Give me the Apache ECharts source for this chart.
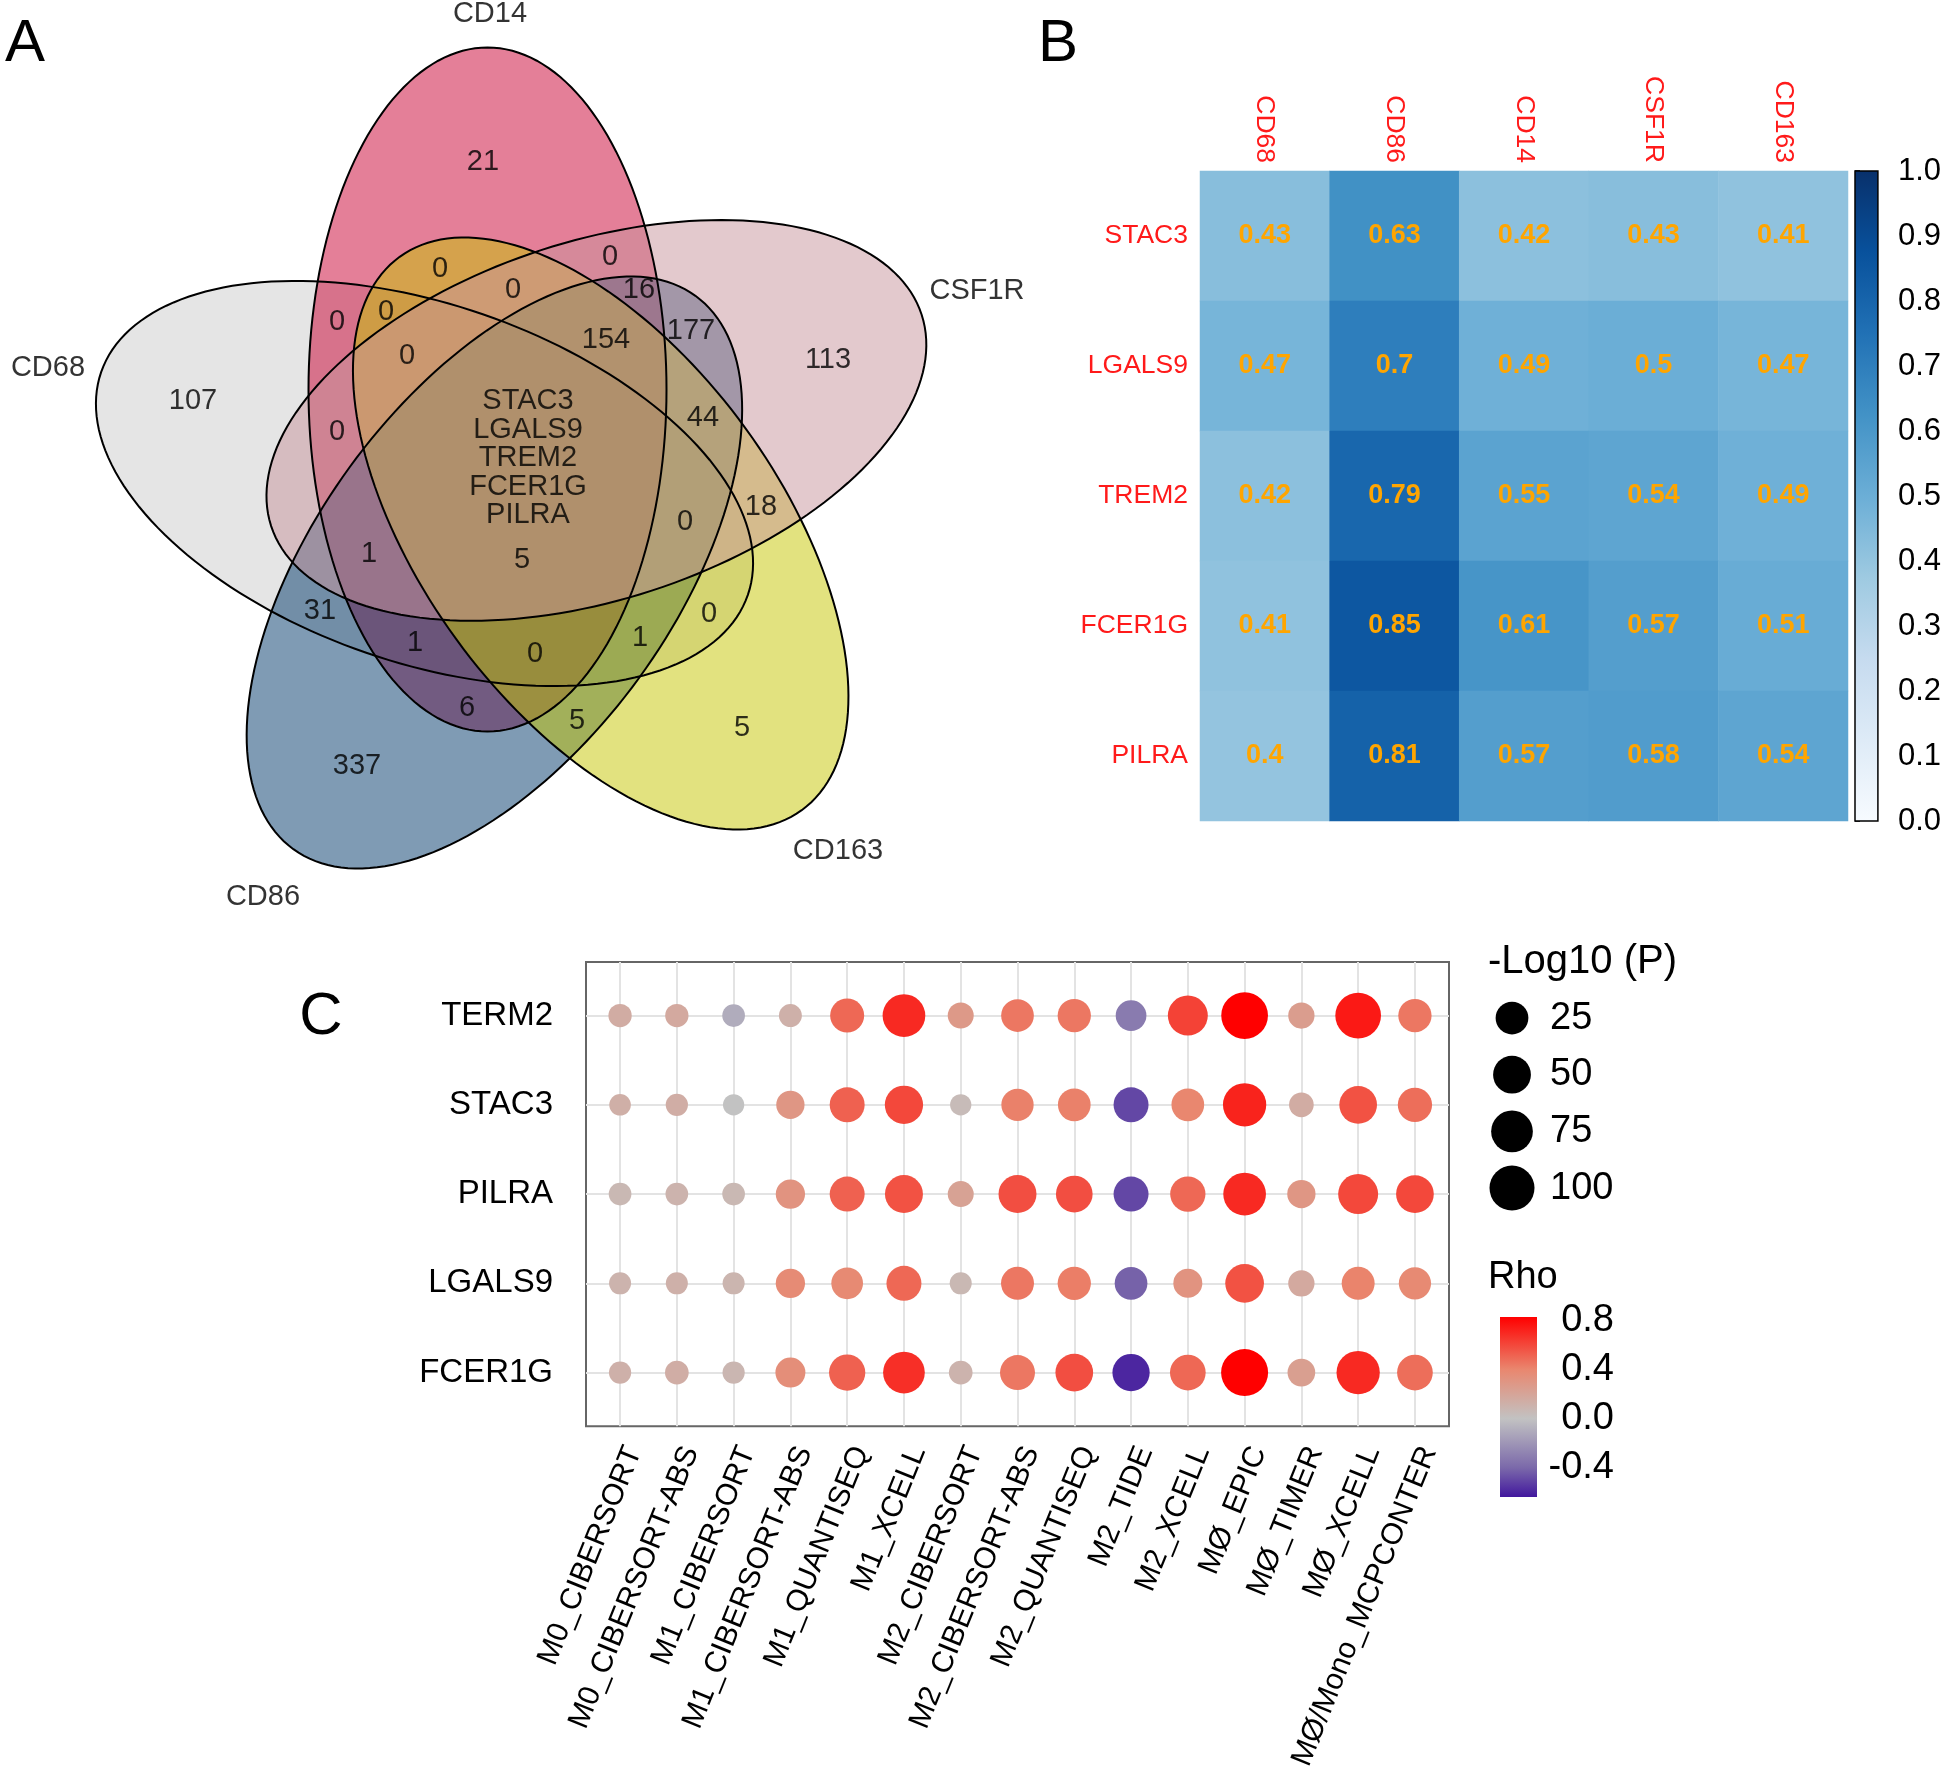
<!DOCTYPE html>
<html lang="en">
  <head>
    <meta charset="UTF-8" />
    <title>Macrophage markers: Venn, correlation heatmap, immune dot plot</title>
    <style>
      html,
      body {
        margin: 0;
        padding: 0;
        background: #ffffff;
      }
      #chart {
        width: 1944px;
        height: 1773px;
      }
    </style>
    <script src="https://cdn.jsdelivr.net/npm/echarts@6.0.0/dist/echarts.min.js"></script>
  </head>
  <body>
    <div id="chart"></div>
    <script>
      // ---------- panel A : five-set venn ----------
      const vennSets = ["CD68", "CD14", "CD86", "CD163", "CSF1R"];
      const vennCounts = [
        "21", "0", "0", "0", "16", "0", "0", "154", "177", "113", "107", "0", "0", "44",
        "18", "0", "1", "5", "31", "0", "1", "0", "1", "6", "5", "5", "337",
      ];
      const vennCoreGenes = ["STAC3", "LGALS9", "TREM2", "FCER1G", "PILRA"];

      // venn layout, in pixels of the venn grid: cx, cy, semi-major, semi-minor, angle
      const vennEllipses = [
        [424.5, 483.5, 342, 179, 19],
        [487.5, 389.5, 342, 179, 90],
        [494.4, 572.5, 342, 179, 126],
        [600.7, 533.5, 342, 179, 54],
        [596.4, 420.4, 342, 179, -18],
      ];
      const vennFills = ["#cccccc", "#c90031", "#003769", "#c5c500", "#c7939b"];
      const vennSetLabelPos = [[48, 368], [490, 14], [263, 897], [838, 851], [977, 291]];
      const vennCountPos = [
        [483, 162], [440, 269], [610, 257], [513, 290], [639, 290], [337, 322], [386, 312],
        [606, 340], [691, 331], [828, 360], [193, 401], [407, 356], [337, 432], [703, 418],
        [761, 507], [685, 522], [369, 554], [522, 560], [320, 611], [709, 614], [415, 643],
        [535, 654], [640, 638], [467, 708], [577, 721], [742, 728], [357, 766],
      ];
      const vennCorePos = [528, 458];

      // ---------- panel B : correlation heatmap ----------
      const heatRows = ["STAC3", "LGALS9", "TREM2", "FCER1G", "PILRA"];
      const heatCols = ["CD68", "CD86", "CD14", "CSF1R", "CD163"];
      const corrSTAC3 = [0.43, 0.63, 0.42, 0.43, 0.41];
      const corrLGALS9 = [0.47, 0.7, 0.49, 0.5, 0.47];
      const corrTREM2 = [0.42, 0.79, 0.55, 0.54, 0.49];
      const corrFCER1G = [0.41, 0.85, 0.61, 0.57, 0.51];
      const corrPILRA = [0.4, 0.81, 0.57, 0.58, 0.54];
      const blues = ["#f7fbff", "#deebf7", "#c6dbef", "#9ecae1", "#6baed6", "#4292c6", "#2171b5", "#08519c", "#08306b"];

      // ---------- panel C : immune infiltration dot plot ----------
      const dotRows = ["TERM2", "STAC3", "PILRA", "LGALS9", "FCER1G"];
      const dotCols = [
        "M0_CIBERSORT", "M0_CIBERSORT-ABS", "M1_CIBERSORT", "M1_CIBERSORT-ABS", "M1_QUANTISEQ",
        "M1_XCELL", "M2_CIBERSORT", "M2_CIBERSORT-ABS", "M2_QUANTISEQ", "M2_TIDE", "M2_XCELL",
        "MØ_EPIC", "MØ_TIMER", "MØ_XCELL", "MØ/Mono_MCPCONTER",
      ];
      // -log10(P)
      const pTERM2 = [1.3, 1.3, 0.8, 1.0, 30.4, 82.1, 5.0, 24.8, 27.3, 17.3, 63.3, 114.4, 5.6, 105.8, 27.3];
      const pSTAC3 = [0.2, 0.5, 0.1, 10.1, 35.0, 52.8, 0.1, 23.2, 24.8, 35.0, 24.8, 86.6, 2.9, 49.3, 31.7];
      const pPILRA = [0.8, 0.8, 0.8, 12.9, 35.0, 51.0, 5.0, 51.0, 43.7, 35.0, 36.5, 82.1, 10.1, 63.3, 49.3];
      const pLGALS9 = [0.4, 0.4, 0.4, 12.9, 20.9, 35.0, 0.4, 26.0, 27.3, 24.8, 12.0, 55.2, 5.6, 26.0, 23.2];
      const pFCER1G = [0.5, 1.7, 0.5, 15.0, 41.6, 74.9, 1.7, 35.0, 49.3, 47.0, 38.5, 117.0, 8.6, 86.6, 38.5];
      // rho
      const rhoTERM2 = [0.15, 0.17, -0.1, 0.12, 0.5, 0.7, 0.28, 0.45, 0.45, -0.32, 0.62, 0.83, 0.25, 0.75, 0.45];
      const rhoSTAC3 = [0.13, 0.14, 0.0, 0.3, 0.52, 0.6, 0.05, 0.42, 0.42, -0.5, 0.4, 0.72, 0.15, 0.57, 0.48];
      const rhoPILRA = [0.07, 0.1, 0.07, 0.32, 0.52, 0.57, 0.22, 0.58, 0.58, -0.5, 0.5, 0.7, 0.3, 0.6, 0.6];
      const rhoLGALS9 = [0.1, 0.12, 0.09, 0.37, 0.38, 0.5, 0.07, 0.45, 0.43, -0.42, 0.32, 0.57, 0.17, 0.41, 0.38];
      const rhoFCER1G = [0.12, 0.14, 0.08, 0.35, 0.52, 0.68, 0.1, 0.45, 0.58, -0.6, 0.5, 0.83, 0.24, 0.7, 0.48];
      const sizeLevels = [25, 50, 75, 100];
      const rhoTicks = [0.8, 0.4, 0, -0.4];
      const rhoMin = -0.64;
      const rhoMax = 0.83;

      const FONT = "Liberation Sans, Arial, sans-serif";

      // ---- helpers ----
      const rhoStops = [
        [-0.64, [66, 24, 158]],
        [-0.4, [123, 105, 170]],
        [0, [194, 194, 194]],
        [0.4, [233, 135, 111]],
        [0.83, [255, 0, 0]],
      ];
      function rhoColor(r) {
        for (let i = 1; i < rhoStops.length; i++) {
          if (r <= rhoStops[i][0] || i === rhoStops.length - 1) {
            const v0 = rhoStops[i - 1][0], c0 = rhoStops[i - 1][1];
            const v1 = rhoStops[i][0], c1 = rhoStops[i][1];
            let t = (r - v0) / (v1 - v0);
            t = Math.max(0, Math.min(1, t));
            return "rgb(" + c0.map((c, k) => Math.round(c + (c1[k] - c) * t)).join(",") + ")";
          }
        }
      }
      function dotSize(p) {
        return 20.5 + 2.45 * Math.sqrt(Math.max(p, 0));
      }
      function ellipsePoints(api, e) {
        const cx = e[0], cy = e[1], a = e[2], b = e[3];
        const th = (e[4] * Math.PI) / 180;
        let pts = [];
        for (let i = 0; i < 180; i++) {
          const t = (i / 180) * Math.PI * 2;
          const x = cx + a * Math.cos(t) * Math.cos(th) - b * Math.sin(t) * Math.sin(th);
          const y = cy + a * Math.cos(t) * Math.sin(th) + b * Math.sin(t) * Math.cos(th);
          pts.push(api.coord([x, y]));
        }
        return pts;
      }

      // ---- build series data ----
      const heatMatrix = [corrSTAC3, corrLGALS9, corrTREM2, corrFCER1G, corrPILRA];
      let heatData = [];
      heatMatrix.forEach((row, r) => row.forEach((v, c) => heatData.push([c, r, v])));

      const pRows = [pTERM2, pSTAC3, pPILRA, pLGALS9, pFCER1G];
      const rhoRows = [rhoTERM2, rhoSTAC3, rhoPILRA, rhoLGALS9, rhoFCER1G];
      let dotData = [];
      pRows.forEach((row, r) => row.forEach((p, c) => dotData.push([c, r, p, rhoRows[r][c]])));

      const countData = vennCounts.map((t, i) => ({ name: t, value: vennCountPos[i] }));
      const setLabelData = vennSets.map((t, i) => ({ name: t, value: vennSetLabelPos[i] }));

      const blueStops = blues.slice().reverse().map((c, i) => ({ offset: i / (blues.length - 1), color: c }));
      const rhoGradStops = rhoStops
        .slice()
        .reverse()
        .map((s) => ({ offset: (rhoMax - s[0]) / (rhoMax - rhoMin), color: "rgb(" + s[1].join(",") + ")" }));

      const dotIdx = dotCols.map((c, i) => i);
      const rowIdx = dotRows.map((r, i) => i);

      let myChart = echarts.init(document.getElementById("chart"), null, { renderer: "canvas" });

      let option = {
        animation: false,
        backgroundColor: "#ffffff",
        textStyle: { fontFamily: FONT, color: "#000" },
        grid: [
          { left: 0, top: 0, width: 1000, height: 920 },
          { left: 1200, top: 171, width: 648, height: 650 },
          { left: 1855, top: 171, width: 24, height: 650 },
          { left: 586, top: 962, width: 863, height: 471, show: true, borderColor: "#666", borderWidth: 2, backgroundColor: "#fff" },
          { left: 1490, top: 989.7, width: 44, height: 226.7 },
          { left: 1500, top: 1317, width: 37, height: 180 },
        ],
        xAxis: [
          { gridIndex: 0, type: "value", min: 0, max: 1000, show: false },
          {
            gridIndex: 1, type: "category", data: heatCols, position: "top",
            axisLine: { show: false }, axisTick: { show: false }, splitLine: { show: false },
            axisLabel: { rotate: 90, color: "#ff1a1a", fontSize: 26.5, margin: 8, fontFamily: FONT },
          },
          { gridIndex: 2, type: "value", min: 0, max: 1, show: false },
          {
            gridIndex: 3, type: "value", min: -0.6, max: 14.6,
            axisLine: { show: false }, splitLine: { show: false },
            axisTick: { show: true, length: 6, lineStyle: { color: "#333", width: 2 }, customValues: dotIdx },
            axisLabel: {
              customValues: dotIdx, rotate: 68, align: "right", verticalAlign: "top", margin: 16,
              fontSize: 30, color: "#000", fontFamily: FONT,
              formatter: (v) => dotCols[Math.round(v)],
            },
          },
          { gridIndex: 4, type: "category", data: [""], show: false },
          { gridIndex: 5, type: "value", min: 0, max: 1, show: false },
        ],
        yAxis: [
          { gridIndex: 0, type: "value", min: 0, max: 920, inverse: true, show: false },
          {
            gridIndex: 1, type: "category", data: heatRows, inverse: true,
            axisLine: { show: false }, axisTick: { show: false }, splitLine: { show: false },
            axisLabel: { color: "#ff1a1a", fontSize: 26.5, margin: 12, fontFamily: FONT },
          },
          {
            gridIndex: 2, type: "value", min: 0, max: 1, interval: 0.1, position: "right",
            axisLine: { show: false }, splitLine: { show: false },
            axisTick: { show: true, length: 5, lineStyle: { color: "#000", width: 1.5 } },
            axisLabel: { fontSize: 31, color: "#000", margin: 20, formatter: (v) => v.toFixed(1), fontFamily: FONT },
          },
          {
            gridIndex: 3, type: "value", min: -0.6, max: 4.6, inverse: true,
            axisLine: { show: false }, splitLine: { show: false },
            axisTick: { show: true, length: 6, lineStyle: { color: "#333", width: 2 }, customValues: rowIdx },
            axisLabel: {
              customValues: rowIdx, fontSize: 33, color: "#000", margin: 33, fontFamily: FONT,
              formatter: (v) => dotRows[Math.round(v)],
            },
          },
          {
            gridIndex: 4, type: "category", data: sizeLevels.map(String), inverse: true, position: "right",
            axisLine: { show: false }, axisTick: { show: false }, splitLine: { show: false },
            axisLabel: { fontSize: 38, color: "#000", margin: 16, align: "left", fontFamily: FONT },
          },
          {
            gridIndex: 5, type: "value", min: rhoMin, max: rhoMax, position: "right",
            axisLine: { show: false }, splitLine: { show: false },
            axisTick: { show: true, inside: true, length: 6, lineStyle: { color: "#fff", width: 1.5 }, customValues: rhoTicks },
            axisLabel: {
              customValues: rhoTicks, fontSize: 38, color: "#000", margin: 77, align: "right", fontFamily: FONT,
              formatter: (v) => v.toFixed(1),
            },
          },
          {
            gridIndex: 5, type: "value", min: rhoMin, max: rhoMax, position: "left",
            axisLine: { show: false }, splitLine: { show: false }, axisLabel: { show: false },
            axisTick: { show: true, inside: true, length: 6, lineStyle: { color: "#fff", width: 1.5 }, customValues: rhoTicks },
          },
        ],
        visualMap: [
          { type: "continuous", show: false, seriesIndex: 4, min: 0, max: 1, dimension: 2, inRange: { color: blues } },
        ],
        series: [
          // 0 venn fills
          {
            type: "custom", xAxisIndex: 0, yAxisIndex: 0, z: 1, silent: true,
            data: vennEllipses.map((e, i) => [i, 0]),
            renderItem: (params, api) => ({
              type: "polygon",
              shape: { points: ellipsePoints(api, vennEllipses[params.dataIndex]) },
              style: { fill: vennFills[params.dataIndex], opacity: 0.5 },
            }),
          },
          // 1 venn outlines
          {
            type: "custom", xAxisIndex: 0, yAxisIndex: 0, z: 2, silent: true,
            data: vennEllipses.map((e, i) => [i, 0]),
            renderItem: (params, api) => ({
              type: "polygon",
              shape: { points: ellipsePoints(api, vennEllipses[params.dataIndex]) },
              style: { fill: "none", stroke: "#000", lineWidth: 2 },
            }),
          },
          // 2 venn counts + core genes
          {
            type: "scatter", xAxisIndex: 0, yAxisIndex: 0, z: 3, symbolSize: 0, silent: true,
            data: countData.concat([{ name: vennCoreGenes.join("\n"), value: vennCorePos }]),
            label: {
              show: true, position: "inside", formatter: "{b}", fontSize: 29, lineHeight: 28.5,
              color: "#000", fontFamily: FONT,
            },
          },
          // 3 venn set names
          {
            type: "scatter", xAxisIndex: 0, yAxisIndex: 0, z: 3, symbolSize: 0, silent: true,
            data: setLabelData,
            label: { show: true, position: "inside", formatter: "{b}", fontSize: 29, color: "#000", fontFamily: FONT },
          },
          // 4 heatmap
          {
            type: "heatmap", xAxisIndex: 1, yAxisIndex: 1, data: heatData,
            label: {
              show: true, color: "#ffa500", fontWeight: "bold", fontSize: 27, fontFamily: FONT,
              formatter: (p) => String(p.value[2]),
            },
          },
          // 5 heatmap colour bar
          {
            type: "custom", xAxisIndex: 2, yAxisIndex: 2, silent: true, data: [[0, 0]],
            renderItem: (params, api) => {
              const p0 = api.coord([0, 1]);
              const p1 = api.coord([1, 0]);
              return {
                type: "rect",
                shape: { x: p0[0], y: p0[1], width: p1[0] - p0[0], height: p1[1] - p0[1] },
                style: { fill: new echarts.graphic.LinearGradient(0, 0, 0, 1, blueStops), stroke: "#000", lineWidth: 1.5 },
              };
            },
          },
          // 6 dot plot grid lines
          {
            type: "scatter", xAxisIndex: 3, yAxisIndex: 3, data: [], z: 1, silent: true,
            markLine: {
              silent: true, symbol: ["none", "none"], animation: false, z: 1,
              label: { show: false },
              lineStyle: { color: "#e3e3e3", width: 2, type: "solid" },
              data: dotIdx.map((i) => ({ xAxis: i })).concat(rowIdx.map((j) => ({ yAxis: j }))),
            },
          },
          // 7 dots
          {
            type: "scatter", xAxisIndex: 3, yAxisIndex: 3, z: 6, data: dotData,
            symbolSize: (v) => dotSize(v[2]),
            itemStyle: { color: (p) => rhoColor(p.value[3]), opacity: 1 },
          },
          // 8 size legend
          {
            type: "scatter", xAxisIndex: 4, yAxisIndex: 4, silent: true,
            data: sizeLevels.map((s, i) => [0, i, s]),
            symbolSize: (v) => dotSize(v[2]),
            itemStyle: { color: "#000", opacity: 1 },
          },
          // 9 rho colour bar
          {
            type: "custom", xAxisIndex: 5, yAxisIndex: 5, silent: true, z: 1, data: [[0, 0]],
            renderItem: (params, api) => {
              const p0 = api.coord([0, rhoMax]);
              const p1 = api.coord([1, rhoMin]);
              return {
                type: "rect",
                shape: { x: p0[0], y: p0[1], width: p1[0] - p0[0], height: p1[1] - p0[1] },
                style: { fill: new echarts.graphic.LinearGradient(0, 0, 0, 1, rhoGradStops) },
              };
            },
          },
        ],
        graphic: [
          { type: "text", x: 25, y: 44, style: { text: "A", fontSize: 60, fontFamily: FONT, fill: "#000", align: "center", verticalAlign: "middle" } },
          { type: "text", x: 1058, y: 44, style: { text: "B", fontSize: 60, fontFamily: FONT, fill: "#000", align: "center", verticalAlign: "middle" } },
          { type: "text", x: 321, y: 1017, style: { text: "C", fontSize: 60, fontFamily: FONT, fill: "#000", align: "center", verticalAlign: "middle" } },
          { type: "text", x: 1488, y: 962, style: { text: "-Log10 (P)", fontSize: 40, fontFamily: FONT, fill: "#000", align: "left", verticalAlign: "middle" } },
          { type: "text", x: 1488, y: 1278, style: { text: "Rho", fontSize: 38, fontFamily: FONT, fill: "#000", align: "left", verticalAlign: "middle" } },
        ],
      };

      myChart.setOption(option);
      window.addEventListener("resize", myChart.resize);
    </script>
  </body>
</html>
